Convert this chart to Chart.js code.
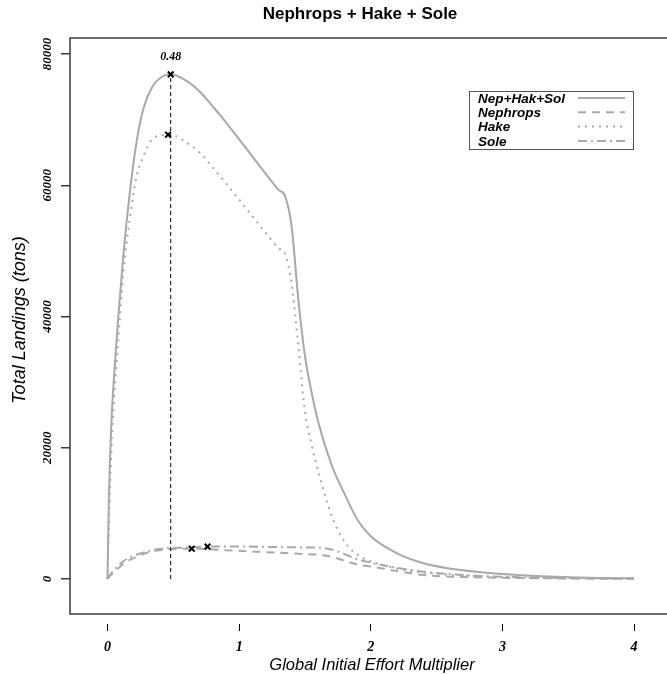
<!DOCTYPE html>
<html lang="en">
<head>
<meta charset="UTF-8">
<title>Nephrops + Hake + Sole</title>
<script src="https://cdn.jsdelivr.net/npm/chart.js"></script>
<style>
    * { margin: 0; padding: 0; box-sizing: border-box; }
    body { background: #ffffff; width: 667px; height: 674px; overflow: hidden; }
    #wrap { position: relative; width: 667px; height: 674px; }
</style>
</head>
<body>
<div id="wrap"><canvas id="landingsChart"></canvas></div>
<script>
// Global initial effort multiplier (x) and landings in tons
const effort = [0, 0.01, 0.03, 0.05, 0.08, 0.12, 0.17, 0.22, 0.27, 0.34, 0.41, 0.48, 0.6, 0.7, 0.8, 0.9, 1.0, 1.1, 1.2, 1.3,
    1.35, 1.4, 1.45, 1.5, 1.55, 1.6, 1.7, 1.8, 1.9, 2.0, 2.2, 2.4, 2.6, 2.8, 3.0, 3.25, 3.5, 3.75, 4.0];
const total = [0, 12000, 24000, 31000, 39500, 49300, 59000, 66500, 71500, 75000, 76500, 76900, 75900, 74300, 72000, 69600, 67000, 64400, 61800, 59300,
    58300, 53500, 42500, 34000, 28500, 24000, 17500, 13000, 9000, 6500, 3900, 2400, 1600, 1100, 750, 450, 280, 170, 100];
const nephrops = [0, 300, 700, 1100, 1600, 2300, 2900, 3400, 3800, 4200, 4400, 4550, 4620, 4600, 4500, 4400, 4300, 4200, 4100, 4000,
    3950, 3900, 3850, 3800, 3750, 3700, 3400, 2800, 2200, 1900, 1200, 600, 350, 250, 180, 120, 80, 50, 30];
const hake = [0, 8000, 20000, 27500, 36000, 46500, 55000, 61300, 64300, 67000, 67600, 67700, 66500, 65000, 62700, 60300, 57800, 55300, 52800, 50400,
    49500, 44800, 35500, 25500, 20500, 16500, 9800, 5700, 3700, 2700, 1600, 1000, 650, 420, 280, 170, 100, 60, 40];
const sole = [0, 400, 900, 1400, 2000, 2700, 3300, 3700, 4000, 4400, 4600, 4700, 4800, 4900, 4950, 4950, 4950, 4930, 4900, 4870,
    4850, 4830, 4820, 4800, 4790, 4780, 4500, 3800, 3000, 2500, 1700, 1100, 750, 500, 350, 220, 140, 90, 60];

// maxima marked with crosses
const maxX = [0.48, 0.46, 0.64, 0.76];
const maxY = [76900, 67700, 4620, 4930];
const optEffort = 0.48;
const optLabel = '0.48';

const xTicks = [0, 1, 2, 3, 4];
const yTicks = [0, 20000, 40000, 60000, 80000];

const SANS = '"Liberation Sans", Arial, sans-serif';
const SERIF = '"Liberation Serif", "Times New Roman", serif';
const GREY = '#a9a9a9';

const toPoints = ys => effort.map((x, i) => ({ x: x, y: ys[i] }));

const curve = (label, ys, dash) => ({
    label: label,
    data: toPoints(ys),
    borderColor: GREY,
    borderWidth: 2,
    borderDash: dash,
    pointRadius: 0,
    cubicInterpolationMode: 'monotone',
    fill: false,
    order: 2
});

// titles, frame, rotated y labels, legend and the 0.48 label
const decorations = {
    id: 'decorations',
    afterDraw(chart) {
        const ctx = chart.ctx;
        const area = chart.chartArea;
        const xs = chart.scales.x;
        const ys = chart.scales.y;
        const boxBottom = ys.getPixelForValue(-5333);
        ctx.save();

        // box (right side is off the picture)
        ctx.strokeStyle = '#3a3a3a';
        ctx.lineWidth = 1.5;
        ctx.beginPath();
        ctx.moveTo(667, area.top);
        ctx.lineTo(area.left, area.top);
        ctx.lineTo(area.left, boxBottom);
        ctx.lineTo(667, boxBottom);
        ctx.stroke();

        // y tick labels, rotated
        ctx.fillStyle = '#000';
        ctx.font = 'bold italic 13px ' + SERIF;
        ctx.textAlign = 'center';
        ctx.textBaseline = 'middle';
        yTicks.forEach(v => {
            ctx.save();
            ctx.translate(48, ys.getPixelForValue(v));
            ctx.rotate(-Math.PI / 2);
            ctx.fillText(String(v), 0, 0);
            ctx.restore();
        });

        // optimum label
        ctx.font = 'bold italic 12px ' + SERIF;
        ctx.fillText(optLabel, xs.getPixelForValue(optEffort), ys.getPixelForValue(total[effort.indexOf(optEffort)]) - 17);

        // titles
        ctx.font = 'bold 17px ' + SANS;
        ctx.fillText('Nephrops + Hake + Sole', 360, 14);
        ctx.font = 'italic 16.5px ' + SANS;
        ctx.fillText('Global Initial Effort Multiplier', 372, 665);
        ctx.save();
        ctx.translate(20, 320);
        ctx.rotate(-Math.PI / 2);
        ctx.font = 'italic 18px ' + SANS;
        ctx.fillText('Total Landings (tons)', 0, 0);
        ctx.restore();

        // legend
        ctx.fillStyle = '#fff';
        ctx.fillRect(469, 91, 164, 58);
        ctx.strokeStyle = '#555';
        ctx.lineWidth = 1;
        ctx.strokeRect(469.5, 91.5, 164, 58);
        ctx.font = 'bold italic 13.5px ' + SANS;
        ctx.textAlign = 'left';
        chart.data.datasets.slice(0, 4).forEach((ds, i) => {
            const y = 98 + i * 14.3;
            ctx.fillStyle = '#000';
            ctx.fillText(ds.label, 478, y + 1);
            ctx.strokeStyle = ds.borderColor;
            ctx.lineWidth = ds.borderWidth;
            ctx.setLineDash(ds.borderDash || []);
            ctx.beginPath();
            ctx.moveTo(578, y);
            ctx.lineTo(625, y);
            ctx.stroke();
            ctx.setLineDash([]);
        });
        ctx.restore();
    }
};

const ctx = document.getElementById('landingsChart').getContext('2d');

new Chart(ctx, {
    type: 'line',
    data: {
        datasets: [
            curve('Nep+Hak+Sol', total, []),
            curve('Nephrops', nephrops, [8, 6]),
            curve('Hake', hake, [2, 5]),
            curve('Sole', sole, [9, 4, 2, 4]),
            {
                label: 'optimum',
                data: [{ x: optEffort, y: 0 }, { x: optEffort, y: total[effort.indexOf(optEffort)] }],
                borderColor: '#000',
                borderWidth: 1,
                borderDash: [4, 3],
                pointRadius: 0,
                order: 1
            },
            {
                label: 'maxima',
                data: maxX.map((x, i) => ({ x: x, y: maxY[i] })),
                showLine: false,
                pointStyle: 'crossRot',
                pointRadius: 4,
                pointBorderWidth: 2,
                borderColor: '#000',
                backgroundColor: '#000',
                order: 0
            }
        ]
    },
    options: {
        responsive: true,
        maintainAspectRatio: false,
        animation: false,
        events: [],
        layout: { padding: { top: 38, left: 0, right: 0, bottom: 0 } },
        plugins: {
            legend: { display: false },
            tooltip: { enabled: false },
            title: { display: false }
        },
        scales: {
            x: {
                type: 'linear',
                min: -0.285,
                max: 4.205,
                afterBuildTicks: s => { s.ticks = xTicks.map(v => ({ value: v })); },
                afterFit: s => { s.height = 50; },
                border: { display: false },
                grid: { drawOnChartArea: false, drawTicks: true, tickLength: 7, color: '#000', lineWidth: 1 },
                ticks: {
                    color: '#000',
                    font: { family: SERIF, size: 14, style: 'italic', weight: 'bold' },
                    padding: 8,
                    maxRotation: 0
                }
            },
            y: {
                type: 'linear',
                min: -6857,
                max: 82440,
                afterBuildTicks: s => { s.ticks = yTicks.map(v => ({ value: v })); },
                afterFit: s => { s.width = 70; },
                border: { display: false },
                grid: { drawOnChartArea: false, drawTicks: true, tickLength: 9, color: '#3a3a3a', lineWidth: 1.5 },
                ticks: { display: false }
            }
        }
    },
    plugins: [decorations]
});
</script>
</body>
</html>
